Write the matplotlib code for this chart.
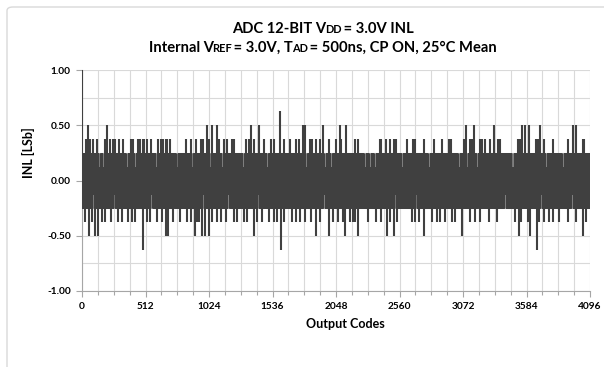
import numpy as np
import matplotlib.pyplot as plt
from matplotlib.patches import FancyBboxPatch
from matplotlib.ticker import MultipleLocator, FormatStrFormatter

# INL values (LSb), per output code
n_codes = 4096
band_hi = 0.25        # normal top of the dense band
band_lo = -0.25       # normal bottom of the dense band
gap_hi = 0.125        # band top where a light gap shows
gap_lo = -0.125       # band bottom where a light gap shows
first_code_inl = 1.00

up_375 = [32, 65, 86, 124, 186, 226, 252, 266, 301, 327, 392, 409, 454, 467, 489, 500,
          527, 554, 615, 635, 656, 674, 688, 710, 836, 876, 916, 957, 978, 1024, 1105,
          1145, 1167, 1212, 1226, 1320, 1346, 1387, 1467, 1521, 1548, 1628, 1675, 1728,
          1747, 1836, 1854, 1890, 1916, 1989, 2051, 2090, 2199, 2225, 2400, 2414, 2453,
          2481, 2513, 2531, 2621, 2666, 2688, 2755, 2836, 2903, 2956, 2978, 3077, 3131,
          3145, 3212, 3225, 3252, 3292, 3352, 3370, 3513, 3531, 3661, 3674, 3728, 3795,
          3916, 4037, 4050]
up_500 = [46, 199, 1011, 1050, 1086, 1360, 1427, 1782, 1795, 1943, 2077, 2131, 3096,
          3158, 3319, 3547, 3575, 3606, 3692, 3956, 3983]
up_625 = [1597]

lo_375 = [24, 78, 158, 186, 231, 293, 319, 373, 400, 427, 521, 548, 607, 643, 731, 791,
          850, 876, 930, 943, 1050, 1091, 1118, 1159, 1226, 1252, 1306, 1333, 1413, 1454,
          1507, 1548, 1574, 1628, 1693, 1728, 1755, 1795, 1844, 1916, 2024, 2064, 2105,
          2158, 2185, 2199, 2306, 2373, 2414, 2481, 2540, 2660, 2688, 2714, 2822, 2862,
          2889, 2930, 2984, 3010, 3131, 3171, 3212, 3279, 3344, 3494, 3539, 3594, 3687,
          3728, 3768, 3795, 3848, 3916, 3983, 4063]
lo_500 = [59, 104, 127, 677, 693, 911, 970, 989, 1024, 1387, 1890, 1989, 2123, 2225,
          2462, 2513, 2755, 3064, 3521, 3615, 4037]
lo_625 = [489, 1604, 3666]

up_gaps = [140, 172, 360, 427, 597, 763, 889, 1037, 1131, 1301, 1494, 1809, 1957, 2010,
           2279, 2320, 2360, 2580, 2795, 3037, 3104, 3184, 3472, 3741, 3876]
lo_gaps = [90, 260, 560, 735, 980, 1180, 1420, 1690, 1950, 2200, 2520, 2690, 2980, 3200,
           3410, 3700, 3950]

x_ticks = [0, 512, 1024, 1536, 2048, 2560, 3072, 3584, 4096]

# build per-code envelope
codes = np.arange(n_codes)
hi = np.full(n_codes, band_hi)
lo = np.full(n_codes, band_lo)
for c in up_gaps:
    hi[max(c - 8, 0):c + 8] = gap_hi
for c in lo_gaps:
    lo[max(c - 8, 0):c + 8] = gap_lo
for lst, v in [(up_375, 0.375), (up_500, 0.5), (up_625, 0.625)]:
    for c in lst:
        hi[c] = v
for lst, v in [(lo_375, -0.375), (lo_500, -0.5), (lo_625, -0.625)]:
    for c in lst:
        lo[c] = v
hi[0] = first_code_inl

plt.rcParams['font.family'] = ['Lato', 'DejaVu Sans']

fig = plt.figure(figsize=(6.04, 3.67), dpi=100)

# chart area border
border = FancyBboxPatch((7 / 604, -0.1), 1.2, 1.1 - 7 / 367,
                        boxstyle='round,pad=0,rounding_size=0.01',
                        transform=fig.transFigure, fc='white', ec='#d9d9d9', lw=1.0,
                        zorder=-10)
fig.patches.append(border)

ax = fig.add_axes([82 / 604, 1 - 291 / 367, (590 - 82) / 604, (291 - 70) / 367])
ax.set_facecolor('none')
ax.set_zorder(1)

line_color = '#404040'
ax.vlines(codes, np.maximum(lo, band_lo), np.minimum(hi, band_hi),
          color=line_color, lw=0.9, zorder=3)
up = hi > band_hi
dn = lo < band_lo
ax.vlines(codes[up], 0, hi[up], color=line_color, lw=1.5, zorder=3)
ax.vlines(codes[dn], lo[dn], 0, color=line_color, lw=1.5, zorder=3)

ax.set_xlim(0, 4096)
ax.set_ylim(-1, 1)
ax.set_xticks(x_ticks)
ax.xaxis.set_minor_locator(MultipleLocator(128))
ax.yaxis.set_major_locator(MultipleLocator(0.5))
ax.yaxis.set_minor_locator(MultipleLocator(0.25))
ax.yaxis.set_major_formatter(FormatStrFormatter('%.2f'))

ax.grid(True, which='both', color='#d9d9d9', lw=0.8, zorder=0)
ax.set_axisbelow(True)
for s in ['top', 'right']:
    ax.spines[s].set_visible(False)
for s in ['left', 'bottom']:
    ax.spines[s].set_color('#a6a6a6')
    ax.spines[s].set_linewidth(0.8)

ax.tick_params(axis='both', which='major', length=4, width=0.8, color='#a6a6a6',
               labelsize=7.3, pad=4)
ax.tick_params(axis='x', which='minor', length=3, width=0.8, color='#a6a6a6')
ax.tick_params(axis='y', which='minor', length=0)
for lab in ax.get_xticklabels() + ax.get_yticklabels():
    lab.set_fontweight('bold')

fig.text(345 / 604, 1 - 324 / 367, 'Output Codes', ha='center', va='center',
         fontsize=9, fontweight='bold')
fig.text(28 / 604, 1 - 153 / 367, 'INL [LSb]', ha='center', va='center',
         rotation=90, fontsize=9, fontweight='bold')


def mixed_line(y, parts, size, cx=322 / 604, kern=1.5):
    renderer = fig.canvas.get_renderer()
    texts = [fig.text(0, y, s, fontsize=size * k, fontweight='bold',
                      ha='left', va='baseline') for s, k in parts]
    widths = [t.get_window_extent(renderer).width - kern for t in texts]
    x = cx * fig.bbox.width - sum(widths) / 2
    for t, w in zip(texts, widths):
        t.set_x(x / fig.bbox.width)
        x += w


mixed_line(1 - 33 / 367, [('ADC 12-BIT V', 1), ('DD', 0.75), (' = 3.0V INL', 1)], 10.6)
mixed_line(1 - 52 / 367, [('Internal V', 1), ('REF', 0.75), (' = 3.0V, T', 1),
                          ('AD', 0.75), (' = 500ns, CP ON, 25°C Mean', 1)], 10.6)

fig.savefig('out.png', dpi=100)
